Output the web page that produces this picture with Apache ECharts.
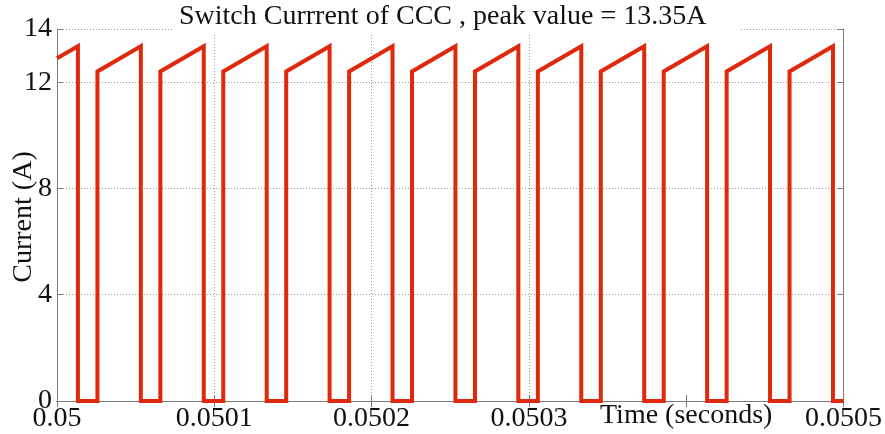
<!DOCTYPE html>
<html>
<head>
<meta charset="utf-8">
<script src="https://cdn.jsdelivr.net/npm/echarts@6/dist/echarts.min.js"></script>
<style>
  html, body { margin: 0; padding: 0; background: #fff; }
  #chart { width: 885px; height: 434px; }
</style>
</head>
<body>
<div id="chart"></div>
<script>
// Switch current waveform of the CCC converter (25 kHz switching)
const tStart = 0.05;          // s
const tEnd = 0.0505;          // s
const startCurrent = 12.9;    // A, current at the left edge of the window

// switch turn-off instants (µs after tStart) and the current reached just before turn-off
const turnOffUs = [13.3, 53.3, 93.3, 133.3, 173.3, 213.3, 253.3, 293.3, 333.3, 373.3, 413.3, 453.3, 493.3];
const peakCurrent = [13.35, 13.35, 13.35, 13.35, 13.35, 13.35, 13.35, 13.35, 13.35, 13.35, 13.35, 13.35, 13.35];

// switch turn-on instants (µs after tStart) and the current step at turn-on
const turnOnUs = [25.7, 65.7, 105.7, 145.7, 185.7, 225.7, 265.7, 305.7, 345.7, 385.7, 425.7, 465.7];
const onCurrent = [12.4, 12.4, 12.4, 12.4, 12.4, 12.4, 12.4, 12.4, 12.4, 12.4, 12.4, 12.4];

const yTicks = [0, 4, 8, 12, 14];
const xTickLabels = ['0.05', '0.0501', '0.0502', '0.0503', '', '0.0505'];
// vertical grid lines per x tick (the one under the axis name is left out)
const xGridShown = [true, true, true, true, false, true];

const titleText = 'Switch Currrent of CCC , peak value = 13.35A';
const xName = 'Time (seconds)';
const yName = 'Current (A)';

// assemble the switched waveform as a polyline
const wave = [[tStart, startCurrent]];
for (let i = 0; i < turnOffUs.length; i++) {
  const tOff = tStart + turnOffUs[i] * 1e-6;
  wave.push([tOff, peakCurrent[i]]);
  wave.push([tOff, 0]);
  if (i < turnOnUs.length) {
    const tOn = tStart + turnOnUs[i] * 1e-6;
    wave.push([tOn, 0]);
    wave.push([tOn, onCurrent[i]]);
  }
}
wave.push([tEnd, 0]);

const FONT = '"Liberation Serif", "Times New Roman", serif';
const FS = 28;
const AXIS_COLOR = '#7a7a7a';
const GRID_COLOR = '#9a9a9a';

const chart = echarts.init(document.getElementById('chart'), null, { renderer: 'canvas' });

const frameAxis = {
  axisLine: { show: true, lineStyle: { color: AXIS_COLOR, width: 1 } },
  axisTick: { show: true, inside: true, length: 6, lineStyle: { color: AXIS_COLOR } },
  axisLabel: { show: false },
  splitLine: { show: false }
};

chart.setOption({
  animation: false,
  backgroundColor: '#fff',
  grid: { left: 57, right: 41, top: 29, bottom: 33, containLabel: false },
  xAxis: [
    Object.assign({}, frameAxis, {
      type: 'value', position: 'bottom', min: tStart, max: tEnd, interval: 0.0001,
      axisLabel: {
        show: true, margin: 4, color: '#111', fontFamily: FONT, fontSize: FS,
        formatter: v => xTickLabels[Math.round((v - tStart) / 0.0001)] || ''
      },
      splitLine: {
        show: true,
        lineStyle: {
          color: xGridShown.map(s => (s ? GRID_COLOR : 'rgba(0,0,0,0)')),
          type: [1, 2], width: 1
        }
      }
    }),
    Object.assign({}, frameAxis, {
      type: 'value', position: 'top', min: tStart, max: tEnd, interval: 0.0001
    })
  ],
  yAxis: [
    Object.assign({}, frameAxis, {
      type: 'value', position: 'left', min: 0, max: 14, interval: 4,
      axisLabel: {
        show: true, margin: 5, color: '#111', fontFamily: FONT, fontSize: FS,
        formatter: v => (yTicks.indexOf(v) >= 0 ? String(v) : '')
      },
      splitLine: { show: true, lineStyle: { color: GRID_COLOR, type: [1, 2], width: 1 } }
    }),
    Object.assign({}, frameAxis, {
      type: 'value', position: 'right', min: 0, max: 14, interval: 4
    })
  ],
  series: [{
    type: 'line',
    data: wave,
    showSymbol: false,
    lineStyle: { color: '#e0280c', width: 4, join: 'miter', cap: 'butt' },
    z: 3
  }],
  graphic: [
    {
      type: 'rect', z: 100,
      shape: { x: 173, y: 20, width: 568, height: 14 },
      style: { fill: '#fff' }
    },
    {
      type: 'text', z: 101, x: 179, y: 17,
      style: { text: titleText, fill: '#111', font: FS + 'px ' + FONT, textAlign: 'left', textVerticalAlign: 'middle' }
    },
    {
      type: 'text', z: 101, x: 600, y: 416,
      style: { text: xName, fill: '#111', font: FS + 'px ' + FONT, textAlign: 'left', textVerticalAlign: 'middle' }
    },
    {
      type: 'text', z: 101, x: 24, y: 217, rotation: Math.PI / 2,
      style: { text: yName, fill: '#111', font: FS + 'px ' + FONT, textAlign: 'center', textVerticalAlign: 'middle' }
    }
  ]
});
</script>
</body>
</html>
